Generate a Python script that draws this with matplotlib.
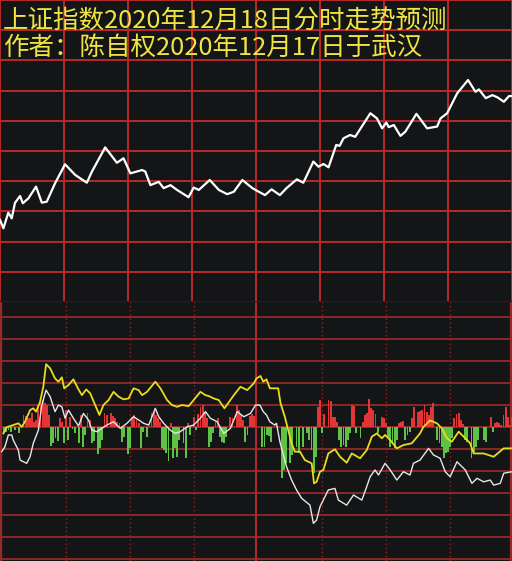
import matplotlib
matplotlib.use("Agg")
import matplotlib.pyplot as plt
import numpy as np

plt.rcParams['font.family'] = ['Noto Sans CJK SC', 'DejaVu Sans']

# 标题
title1 = "上证指数2020年12月18日分时走势预测"
title2 = "作者：陈自权2020年12月17日于武汉"

# 上图: 指数分时 (分钟, 点位)
price_min = [0, 1.6, 3.9, 5.5, 7, 9.4, 10.7, 13.3, 16.9, 19.6, 21.9, 25.8, 30.5, 35.2, 40.7,
             43.1, 49.3, 54.8, 57.9, 61.1, 66.6, 68.1, 70.5, 74.4, 76.7, 79.9, 83, 88.4, 90.8,
             93.2, 98.3, 102.6, 106.5, 109.6, 113.6, 118.3, 120.3, 124.2, 127.3, 131.2, 134.3,
             139.1, 142.2, 146.9, 149.3, 151.6, 154, 157.6, 159.2, 161, 164.1, 166.5, 173.6,
             176.7, 179.1, 181.1, 182.2, 184.6, 187.7, 190, 195.2, 197.1, 200.2, 204.9, 206.5,
             209.6, 214.3, 219.4, 222.9, 224.5, 227.7, 230.8, 233.1, 236.2, 238.6, 240]
price_val = [3367.2, 3364.4, 3369.6, 3367.7, 3372.8, 3375.1, 3372.7, 3374.3, 3378.2, 3372.9,
             3373.2, 3379.3, 3385.6, 3382.1, 3379.5, 3383.2, 3391.2, 3386.1, 3387.6, 3382.6,
             3383.7, 3383.2, 3378.7, 3379.8, 3377.7, 3378.7, 3377.1, 3374.7, 3377.9, 3377.1,
             3380.4, 3377.1, 3375.7, 3376.5, 3380.4, 3377.7, 3376.9, 3375.4, 3377.3, 3375.4,
             3377.7, 3380.6, 3379.5, 3386.5, 3384.8, 3385.7, 3384.6, 3392.0, 3391.7, 3394.2,
             3395.3, 3394.7, 3402.5, 3400.8, 3397.5, 3399.4, 3397.9, 3398.6, 3395.0, 3396.4,
             3402.3, 3400.5, 3397.5, 3398.1, 3400.8, 3402.5, 3409.1, 3413.5, 3409.6, 3410.4,
             3407.5, 3408.5, 3407.8, 3406.3, 3408.2, 3408.2]

# 下图: 黄线
yel_min = [1.6, 3.1, 6.2, 8.6, 10.2, 11.7, 14.1, 15.6, 16.9, 18.8, 20.3, 21.6, 23.5, 25.8, 27.4,
           29, 30.1, 32.1, 34.4, 36.8, 38.4, 40.4, 42.3, 44.6, 46.6, 48.5, 50.9, 53.2, 55.6, 57.9,
           60.3, 62.6, 65, 66.6, 68.9, 72.8, 75.2, 78.3, 80.6, 83, 85.3, 88.4, 90.8, 93.9, 96.3,
           97.8, 100.2, 102.5, 105.2, 108, 109.6, 112.7, 115.9, 119, 120.2, 122.1, 123.4, 124.9,
           126.5, 130.4, 131.5, 133.5, 134.7, 136.7, 138.2, 140.6, 142.9, 146.1, 147.2, 148.4,
           150, 151.6, 153.9, 157, 159.4, 162.5, 164.9, 168.8, 171.9, 174.3, 176.6, 179, 180.5,
           182.9, 186, 189.1, 193, 196.9, 198.5, 201.6, 204.8, 207.1, 209.5, 211.8, 215, 218.1,
           220.4, 222, 226.7, 231.4, 236.1, 240]
yel_val = [-0.29, -0.01, 0.09, 0.17, 0.01, 0.24, 0.77, 0.85, 0.70, 1.15, 1.83, 2.86, 2.67, 2.21,
           2.06, 2.26, 1.76, 1.91, 2.17, 1.71, 1.45, 1.71, 1.53, 1.0, 0.55, 1.0, 1.23, 1.6, 1.38,
           1.26, 1.3, 1.76, 1.68, 1.45, 1.6, 2.06, 1.76, 1.23, 1.0, 0.92, 1.0, 0.95, 1.23, 1.6,
           1.45, 1.41, 1.3, 1.23, 0.85, 1.23, 1.45, 1.83, 1.68, 1.99, 2.21, 2.32, 2.06, 2.17, 1.76,
           1.76, 1.08, 0.47, 0.01, -0.74, -1.12, -1.12, -1.5, -1.65, -2.56, -2.49, -2.03, -1.95,
           -1.2, -1.01, -1.35, -1.62, -1.2, -1.42, -1.05, -0.44, -0.29, -0.51, -0.36, -0.59,
           -0.97, -0.82, -0.74, -0.29, 0.01, 0.3, 0.17, -0.06, -0.51, -0.67, -0.21, -0.51, -0.74,
           -1.2, -1.2, -1.35, -0.97, -0.97]

# 下图: 白线
wht_min = [0.8, 2.3, 3.9, 5.5, 6.2, 8.6, 9.4, 12.5, 14.1, 15.6, 18, 19.6, 21.6, 23.5, 25.8, 27.4,
           29, 30.5, 32.1, 34.4, 36.8, 39.1, 41.5, 43.1, 45.4, 50.1, 53.2, 56.4, 59.5, 62.6, 65,
           67.3, 69.7, 72.8, 74.4, 76.7, 79.8, 82.2, 84.5, 87.7, 90.8, 93.9, 96.3, 98.6, 101.8,
           104.9, 108, 111.2, 114.3, 117.4, 119.8, 121.8, 123.4, 124.9, 126.5, 128.8, 129.6,
           131.2, 134.3, 136.7, 139, 141.4, 145.3, 146.9, 148.4, 150, 153.9, 157, 158.6, 162.5,
           165.7, 169.6, 171.9, 173.5, 175.8, 177.4, 180.5, 182.9, 186, 189.1, 192.2, 193.8,
           196.9, 200.9, 203.2, 206.3, 208.7, 211, 214.2, 218.1, 221.2, 223.6, 226.7, 229.8,
           231.4, 234.5, 236.1, 240]
wht_val = [-1.12, -0.9, -0.36, -0.36, -0.59, -1.05, -1.5, -1.65, -1.35, -0.74, -0.14, 1.0, 1.68,
           1.38, 0.7, 1.0, 0.92, 0.4, 0.77, 0.4, 0.05, 0.62, 0.32, -0.14, -0.21, 0.09, 0.24,
           -0.06, 0.17, 0.47, 0.32, 0.17, 0.09, 0.85, 0.47, 0.17, -0.14, -0.29, -0.21, 0.01,
           0.09, 0.4, 0.7, 0.4, 0.24, -0.29, -0.06, 0.7, 0.47, 0.62, 1.0, 1.0, 0.7, 0.55, 0.24,
           0.09, 0.17, -0.67, -1.8, -2.41, -2.86, -3.24, -3.55, -4.38, -4.23, -3.62, -2.86, -2.79,
           -3.32, -3.55, -3.09, -3.32, -2.71, -2.26, -1.95, -2.18, -1.65, -1.95, -2.41, -2.03,
           -2.18, -1.65, -1.5, -0.97, -1.27, -1.42, -2.03, -2.26, -1.58, -1.95, -2.56, -2.33,
           -2.49, -2.41, -2.64, -2.56, -2.1, -2.03]

# 下图: 红柱 / 绿柱 (分钟, 数值)
red_bars = [(11, 0.55), (12, 0.5), (13, 0.41), (14, 0.4), (15, 0.64), (16, 0.24), (17, 0.32),
            (18, 1.0), (19, 1.2), (20, 1.25), (21, 1.09), (22, 1.0), (23, 0.55), (28, 0.41),
            (29, 0.24), (31, 0.77), (33, 0.47), (38, 0.55), (41, 0.62), (42, 0.32), (49, 0.62),
            (50, 0.55), (52, 0.65), (53, 0.5), (54, 0.39), (55, 0.24), (56, 0.17), (62, 0.47),
            (63, 0.55), (64, 0.32), (65, 0.17), (71, 0.62), (72, 0.7), (73, 0.55), (74, 0.39),
            (75, 0.24), (80, 0.17), (88, 0.17), (91, 0.47), (93, 0.6), (94, 0.92), (95, 1.0),
            (96, 0.7), (97, 0.39), (101, 0.24), (102, 0.39), (108, 0.47), (109, 0.39), (111, 1.0),
            (112, 0.77), (113, 0.55), (114, 0.32), (117, 0.5), (118, 0.59), (119, 0.5),
            (141, 0.05), (149, 0.92), (150, 1.23), (152, 0.59), (154, 1.23), (155, 1.2),
            (156, 0.47), (157, 0.44), (158, 0.24), (165, 1.0), (166, 0.95), (170, 0.24),
            (171, 0.55), (172, 0.62), (173, 1.26), (174, 0.85), (175, 0.77), (176, 0.59),
            (179, 0.44), (180, 0.39), (181, 0.17), (187, 0.17), (188, 0.24), (189, 0.29),
            (193, 0.39), (194, 0.9), (196, 0.7), (197, 0.74), (198, 0.77), (199, 1.0), (200, 0.7),
            (201, 0.55), (202, 0.9), (203, 1.11), (213, 0.39), (214, 0.59), (215, 0.62),
            (216, 0.32), (217, 0.14), (230, 0.47), (232, 0.17), (233, 0.24), (234, 0.17),
            (235, 0.09), (236, 0.55), (237, 0.92), (238, 0.47), (239, 0.09), (240, 0.47)]
green_bars = [(2, -0.29), (3, -0.21), (4, -0.14), (5, -0.21), (7, -0.14), (9, -0.26), (24, -0.86),
              (25, -0.74), (26, -0.51), (27, -0.62), (30, -0.74), (32, -0.59), (34, -0.1),
              (35, -0.29), (37, -0.71), (39, -0.9), (40, -0.36), (43, -0.74), (44, -0.62),
              (46, -1.23), (47, -0.97), (48, -0.59), (57, -0.67), (58, -0.44), (60, -1.23),
              (61, -0.97), (66, -0.97), (67, -0.21), (69, -0.44), (76, -0.97), (77, -1.05),
              (78, -1.2), (79, -1.53), (81, -1.42), (82, -0.97), (83, -1.38), (84, -0.59),
              (86, -0.74), (87, -1.42), (89, -0.36), (92, -0.14), (98, -0.9), (99, -0.67),
              (100, -0.29), (103, -0.44), (104, -0.67), (105, -0.74), (106, -0.44), (115, -0.67),
              (116, -0.36), (123, -0.9), (124, -0.9), (125, -0.36), (126, -0.41), (127, -0.67),
              (132, -2.33), (133, -1.95), (134, -1.65), (136, -1.65), (137, -1.27), (139, -0.9),
              (140, -1.2), (142, -0.9), (144, -0.29), (145, -0.59), (146, -1.05), (147, -2.1),
              (148, -1.35), (151, -0.29), (159, -0.59), (160, -0.9), (161, -0.82), (162, -0.9),
              (163, -0.59), (164, -0.29), (167, -0.29), (169, -0.51), (177, -0.29), (182, -0.44),
              (183, -0.9), (184, -0.67), (185, -0.97), (186, -0.59), (190, -0.59), (191, -0.36),
              (192, -0.21), (205, -0.59), (206, -0.74), (207, -0.9), (208, -1.42), (209, -1.2),
              (210, -1.12), (211, -0.9), (212, -0.51), (218, -0.59), (219, -0.67), (221, -1.42),
              (222, -1.12), (223, -0.9), (224, -0.59), (227, -0.59), (228, -0.67), (231, -0.21)]

bg = '#141517'
fig = plt.figure(figsize=(5.12, 5.61), dpi=100, facecolor=bg)

# 上图
ax1 = fig.add_axes([0, 1 - 302 / 561, 1, 302 / 561], facecolor=bg)
ax1.set_xlim(0, 240)
ax1.set_ylim(3340, 3440)
for y in range(3350, 3441, 10):
    ax1.axhline(y, color='#b82a2a', lw=1.4, zorder=1)
for x in range(0, 241, 30):
    ax1.axvline(x, color='#b82a2a', lw=1.4, zorder=1)
ax1.plot(price_min, price_val, color='white', lw=1.6, zorder=3)
ax1.axis('off')

# 下图
ax2 = fig.add_axes([0, 0, 1, 260 / 561], facecolor=bg)
ax2.set_xlim(0, 240)
ax2.set_ylim(-6.09, 5.73)
for y in range(-6, 6):
    ax2.axhline(y, color='#9e2c2c', lw=1.2, zorder=1)
for x in [30, 60, 90, 150, 180, 210]:
    ax2.axvline(x + 1, color='#8a2424', lw=1.0, ls=(0, (1, 2)), zorder=1)
ax2.axvline(120, color='#b82a2a', lw=1.4, zorder=1)
ax2.axvline(0.6, color='#9a2a2a', lw=1.6, zorder=1)
ax2.axvline(239.6, color='#9a2a2a', lw=1.6, zorder=1)
ax2.axhline(5.72, color='#2e1c1c', lw=1.0, zorder=1)
rx, ry = zip(*red_bars)
gx, gy = zip(*green_bars)
ax2.bar(rx, ry, width=0.85, color='#e23636', lw=0, zorder=2)
ax2.bar(gx, gy, width=0.85, color='#5ec246', lw=0, zorder=2)
ax2.plot(yel_min, yel_val, color='#e8dc1e', lw=1.3, zorder=3)
ax2.plot(wht_min, wht_val, color='#e6e6e6', lw=1.0, zorder=4)
ax2.axis('off')

fig.text(3 / 512, 1 - 22 / 561, title1, color='#f0e442', fontsize=18.4, va='center', ha='left')
fig.text(3 / 512, 1 - 48 / 561, title2, color='#f0e442', fontsize=18.4, va='center', ha='left')

fig.savefig('out.png', dpi=100, facecolor=bg)
